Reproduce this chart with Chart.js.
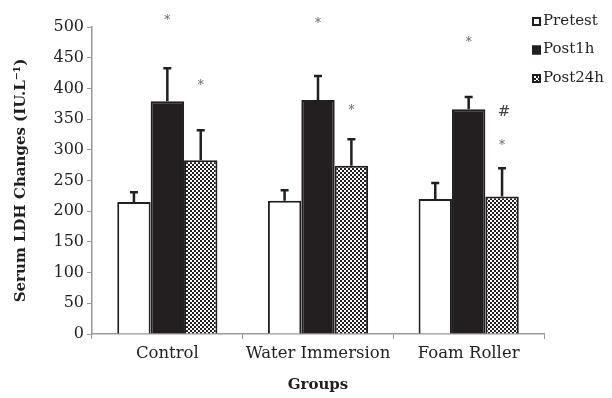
<!DOCTYPE html>
<html>
<head>
<meta charset="utf-8">
<script src="https://cdn.jsdelivr.net/npm/chart.js@4"></script>
<style>
  html, body { margin: 0; padding: 0; background: #fff; }
  #wrap { width: 612px; height: 398px; }
</style>
</head>
<body>
<div id="wrap"><canvas id="ldhChart"></canvas></div>
<script>
// data
const groups = ['Control', 'Water Immersion', 'Foam Roller'];
const seriesNames = ['Pretest', 'Post1h', 'Post24h'];
const pretest = [215, 217, 220];
const post1h = [379, 381, 366];
const post24h = [283, 274, 224];
const pretestErr = [16, 17, 26];
const post1hErr = [54, 39, 20];
const post24hErr = [49, 43, 46];
// significance marks: [group, series, label, value]
const marks = [
  [0, 1, '*', 515], [0, 2, '*', 409],
  [1, 1, '*', 510], [1, 2, '*', 368],
  [2, 1, '*', 479], [2, 2, '#', 362], [2, 2, '*', 311]
];
const yTicks = [0, 50, 100, 150, 200, 250, 300, 350, 400, 450, 500];

const ink = '#231f20';
const serif = "'DejaVu Serif', 'Liberation Serif', serif";

// checker pattern for Post24h
function checker() {
    const c = document.createElement('canvas');
    c.width = 4; c.height = 4;
    const g = c.getContext('2d');
    g.fillStyle = '#fff';
    g.fillRect(0, 0, 4, 4);
    g.fillStyle = ink;
    g.fillRect(0, 0, 2, 2);
    g.fillRect(2, 2, 2, 2);
    return g.createPattern(c, 'repeat');
}

const pattern = checker();
const fills = ['#ffffff', ink, pattern];

// upward error bars + asterisks + legend
const extras = {
    id: 'extras',
    afterDatasetsDraw(chart) {
        const ctx = chart.ctx;
        const y = chart.scales.y;
        const errs = [pretestErr, post1hErr, post24hErr];
        ctx.save();
        ctx.strokeStyle = ink;
        ctx.lineWidth = 2.5;
        chart.data.datasets.forEach((ds, di) => {
            const meta = chart.getDatasetMeta(di);
            meta.data.forEach((bar, i) => {
                const top = y.getPixelForValue(ds.data[i]);
                const hi = y.getPixelForValue(ds.data[i] + errs[di][i]);
                ctx.beginPath();
                ctx.moveTo(bar.x, top);
                ctx.lineTo(bar.x, hi);
                ctx.moveTo(bar.x - 4, hi);
                ctx.lineTo(bar.x + 4, hi);
                ctx.stroke();
            });
        });
        ctx.textAlign = 'center';
        ctx.textBaseline = 'middle';
        marks.forEach(m => {
            const bar = chart.getDatasetMeta(m[1]).data[m[0]];
            const py = y.getPixelForValue(m[3]);
            if (m[2] === '#') {
                ctx.fillStyle = '#444';
                ctx.font = '15px ' + serif;
                ctx.fillText('#', bar.x + 2, py);
            } else {
                ctx.fillStyle = '#666';
                ctx.font = '12px ' + serif;
                ctx.fillText('*', bar.x, py + 3);
            }
        });

        // legend, top right
        ctx.textAlign = 'left';
        ctx.font = '15px ' + serif;
        seriesNames.forEach((name, k) => {
            const ly = 21 + k * 28.5;
            ctx.fillStyle = fills[k];
            ctx.fillRect(532, ly - 4, 9, 9);
            ctx.strokeStyle = ink;
            ctx.lineWidth = 2;
            ctx.strokeRect(533, ly - 3, 7, 7);
            ctx.fillStyle = ink;
            ctx.fillText(name, 543, ly);
        });
        ctx.restore();
    }
};

const ctx = document.getElementById('ldhChart').getContext('2d');
new Chart(ctx, {
    type: 'bar',
    data: {
        labels: groups,
        datasets: [
            { label: seriesNames[0], data: pretest, backgroundColor: fills[0] },
            { label: seriesNames[1], data: post1h, backgroundColor: fills[1] },
            { label: seriesNames[2], data: post24h, backgroundColor: fills[2] }
        ].map(d => Object.assign(d, {
            borderColor: ink,
            borderWidth: 2,
            barPercentage: 1,
            categoryPercentage: 0.665
        }))
    },
    options: {
        responsive: true,
        maintainAspectRatio: false,
        animation: false,
        layout: { padding: { top: 27, right: 68, left: 12, bottom: 4 } },
        plugins: {
            legend: { display: false },
            tooltip: { enabled: false }
        },
        scales: {
            x: {
                grid: { display: true, drawOnChartArea: false, color: '#999', tickLength: 5, offset: true },
                border: { color: '#999', width: 1.5 },
                ticks: { color: ink, font: { family: serif, size: 16.5 }, padding: 5 },
                afterFit(scale) { scale.height = 60; },
                title: {
                    display: true, text: 'Groups', color: ink,
                    font: { family: serif, size: 15, weight: 'bold' }, padding: { top: 11, bottom: 0 }
                }
            },
            y: {
                min: 0, max: 500,
                afterBuildTicks(scale) { scale.ticks = yTicks.map(v => ({ value: v })); },
                afterFit(scale) { scale.width = 80; },
                grid: { display: true, drawOnChartArea: false, color: '#999', tickLength: 5 },
                border: { color: '#999', width: 1.5 },
                ticks: { color: ink, font: { family: serif, size: 16 }, padding: 3 },
                title: {
                    display: true, text: 'Serum LDH Changes (IU.L\u207B\u00B9)', color: ink,
                    font: { family: serif, size: 15, weight: 'bold' }, padding: { top: 0, bottom: 4 }
                }
            }
        }
    },
    plugins: [extras]
});
</script>
</body>
</html>
